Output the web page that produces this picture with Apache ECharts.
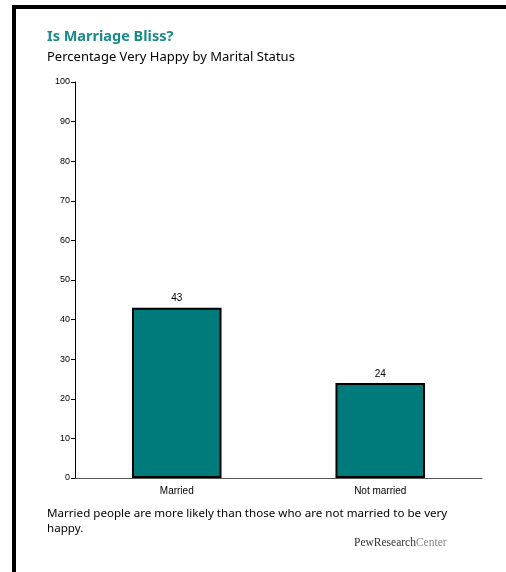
<!DOCTYPE html>
<html>
<head>
<meta charset="utf-8">
<script src="https://cdn.jsdelivr.net/npm/echarts@6/dist/echarts.min.js"></script>
<style>
html,body{margin:0;padding:0;background:#fff;}
#chart{width:506px;height:572px;}
</style>
</head>
<body>
<div id="chart"></div>
<script>
const categories = ['Married', 'Not married'];
const values = [43, 24];
const yTicks = [0, 10, 20, 30, 40, 50, 60, 70, 80, 90, 100];
const titleText = 'Is Marriage Bliss?';
const subtitleText = 'Percentage Very Happy by Marital Status';
const noteLines = ['Married people are more likely than those who are not married to be very', 'happy.'];

const chart = echarts.init(document.getElementById('chart'), null, {renderer: 'canvas'});
chart.setOption({
  animation: false,
  grid: {left: 75, right: 24, top: 82, bottom: 94, containLabel: false},
  xAxis: {
    type: 'category',
    data: categories,
    axisLine: {show: true, lineStyle: {color: '#555', width: 1}},
    axisTick: {show: false},
    axisLabel: {color: '#000', fontFamily: 'Liberation Sans', fontSize: 10, margin: 8, letterSpacing: -0.5}
  },
  yAxis: {
    type: 'value',
    min: yTicks[0],
    max: yTicks[yTicks.length - 1],
    interval: 10,
    splitLine: {show: false},
    axisLine: {show: true, lineStyle: {color: '#000', width: 1}},
    axisTick: {show: true, length: 4, lineStyle: {color: '#000'}},
    axisLabel: {color: '#000', fontFamily: 'Liberation Sans', fontSize: 9, margin: 5, letterSpacing: -0.5}
  },
  series: [{
    type: 'bar',
    data: values,
    barWidth: '44%',
    itemStyle: {color: '#007b7b', borderColor: '#000', borderWidth: 2},
    label: {show: true, position: 'top', color: '#000', fontFamily: 'Liberation Sans', fontSize: 10, distance: 4, letterSpacing: -0.5}
  }],
  graphic: [
    {type: 'rect', shape: {x: 12, y: 5, width: 4, height: 567}, style: {fill: '#000'}},
    {type: 'rect', shape: {x: 12, y: 5, width: 494, height: 4}, style: {fill: '#000'}},
    {type: 'text', left: 47, top: 29, style: {text: titleText, fill: '#1b8a8a', font: 'bold 14.5px "Noto Sans"'}},
    {type: 'text', left: 47, top: 51, style: {text: subtitleText, fill: '#000', font: '13px "Noto Sans"'}},
    {type: 'text', left: 47, top: 506, style: {text: noteLines.join('\n'), fill: '#000', font: '11.6px "Noto Sans"', lineHeight: 15}},
    {type: 'text', left: 354, top: 537, style: {
      text: '{a|PewResearch}{b|Center}',
      rich: {
        a: {fill: '#333', font: '11.5px "Liberation Serif"'},
        b: {fill: '#888', font: '11.5px "Liberation Serif"'}
      }
    }}
  ]
});
</script>
</body>
</html>
